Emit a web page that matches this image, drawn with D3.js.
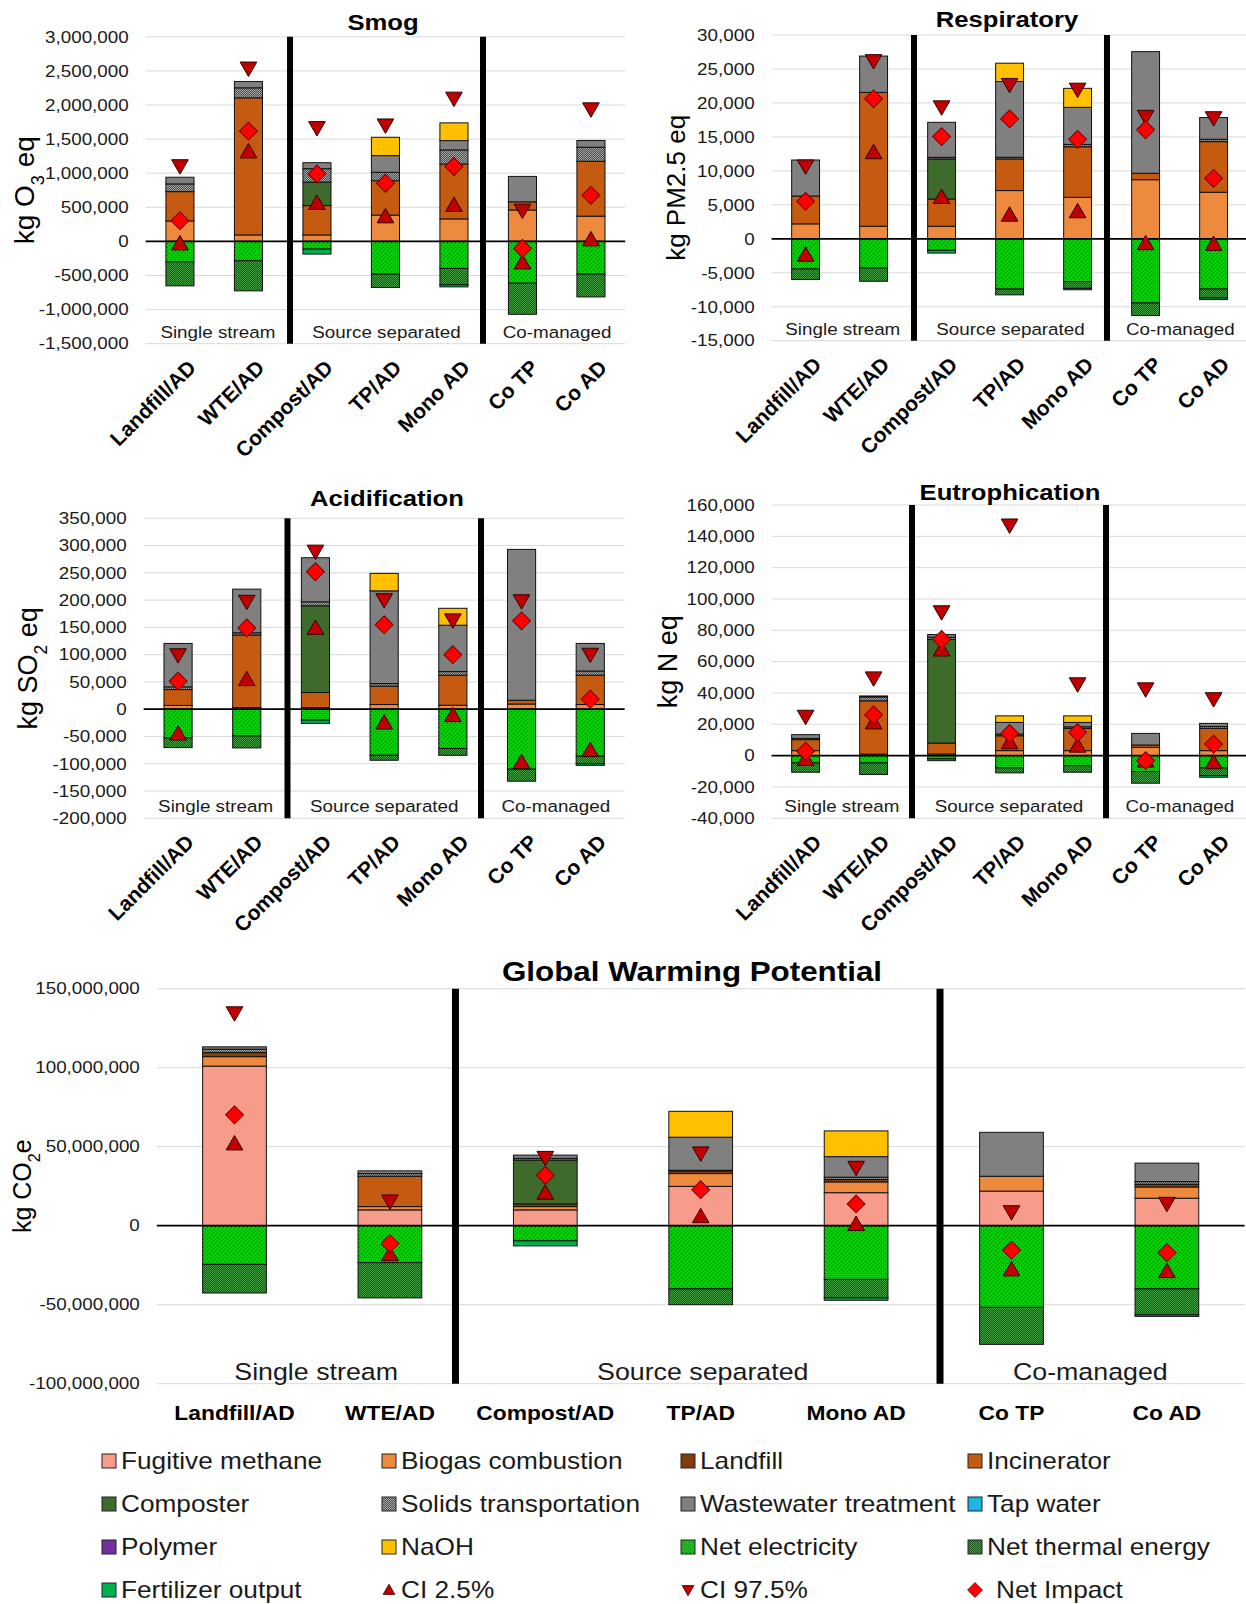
<!DOCTYPE html>
<html>
<head>
<meta charset="utf-8">
<script src="https://cdn.jsdelivr.net/npm/d3@7"></script>
<style>
  body { margin: 0; background: #fff; }
  svg { font-family: "Liberation Sans", Arial, sans-serif; }
</style>
</head>
<body>
<script>
const scenarios = ["Landfill/AD", "WTE/AD", "Compost/AD", "TP/AD", "Mono AD", "Co TP", "Co AD"];
const groups = ["Single stream", "Source separated", "Co-managed"];

// ---- Smog (kg O3 eq)
const smogBiogas     = [300000, 95000, 95000, 385000, 330000, 460000, 370000];
const smogIncin      = [430000, 2010000, 430000, 505000, 805000, 120000, 805000];
const smogComposter  = [0, 0, 345000, 0, 0, 0, 0];
const smogSolids     = [113000, 147000, 196000, 123000, 206000, 0, 206000];
const smogWaste      = [98000, 93000, 88000, 245000, 137000, 373000, 98000];
const smogNaOH       = [0, 0, 0, 269000, 260000, 0, 0];
const smogElec       = [-300000, -284000, -113000, -480000, -397000, -613000, -480000];
const smogThermal    = [-352000, -441000, 0, -196000, -240000, -456000, -334000];
const smogFert       = [0, 0, -73000, 0, -30000, 0, 0];
const smogLow        = [-54000, 1294000, 539000, 343000, 510000, -333000, 5000];
const smogHigh       = [1127000, 2559000, 1686000, 1725000, 2118000, 475000, 1961000];
const smogNet        = [304000, 1618000, 990000, 853000, 1098000, -103000, 676000];

// ---- Respiratory (kg PM2.5 eq)
const respBiogas     = [2200, 1850, 1850, 7100, 6100, 8700, 6850];
const respIncin      = [4100, 19700, 4000, 4650, 7450, 950, 7450];
const respComposter  = [0, 0, 5900, 0, 0, 0, 0];
const respSolids     = [0, 0, 250, 250, 350, 0, 350];
const respWaste      = [5300, 5350, 5150, 11150, 5450, 17900, 3200];
const respNaOH       = [0, 0, 0, 2700, 2800, 0, 0];
const respElec       = [-4450, -4300, -1700, -7400, -6300, -9450, -7400];
const respThermal    = [-1550, -1950, 0, -850, -1000, -1850, -1300];
const respFert       = [0, 0, -400, 0, -200, 0, -250];
const respLow        = [-2600, 12500, 5900, 3300, 3800, -900, -1000];
const respHigh       = [10900, 26400, 19600, 22900, 22200, 18200, 18000];
const respNet        = [5500, 20600, 15050, 17650, 14650, 16050, 8900];

// ---- Acidification (kg SO2 eq)
const acidBiogas     = [7000, 3000, 3000, 8600, 7300, 9500, 8600];
const acidIncin      = [29000, 133000, 27600, 33600, 55100, 7000, 53800];
const acidComposter  = [0, 0, 159000, 0, 0, 0, 0];
const acidSolids     = [5000, 4100, 7300, 4800, 6600, 0, 7600];
const acidWaste      = [79600, 80000, 80800, 170000, 85000, 276500, 50600];
const acidNaOH       = [0, 0, 0, 32000, 31000, 0, 0];
const acidElec       = [-52600, -49000, -20000, -84500, -72000, -110000, -86000];
const acidThermal    = [-17800, -22000, 0, -9100, -12500, -22000, -14000];
const acidFert       = [0, 0, -6000, 0, 0, 0, -3000];
const acidLow        = [-47700, 52000, 146000, -27500, -14000, -100000, -78000];
const acidHigh       = [102000, 200000, 292000, 203000, 166000, 201000, 103000];
const acidNet        = [51400, 149000, 252000, 155000, 100000, 162000, 18400];

// ---- Eutrophication (kg N eq)
const eutBiogas      = [3200, 1000, 1000, 3200, 3200, 5300, 3200];
const eutIncin       = [7000, 34000, 7000, 9500, 14200, 1500, 14200];
const eutComposter   = [0, 0, 66200, 0, 0, 0, 0];
const eutSolids      = [800, 2500, 1400, 1100, 1000, 0, 1200];
const eutWaste       = [2400, 600, 1700, 7400, 2800, 7400, 2000];
const eutNaOH        = [0, 0, 0, 4200, 4200, 0, 0];
const eutElec        = [-4700, -4700, -2100, -7800, -6400, -10200, -7800];
const eutThermal     = [-5900, -7300, 0, -3200, -4200, -7400, -4900];
const eutFert        = [0, 0, -1100, 0, 0, 0, -1100];
const eutLow         = [-3200, 20100, 66700, 7400, 5300, -4200, -5300];
const eutHigh        = [25900, 50400, 92600, 148000, 46600, 43400, 37100];
const eutNet         = [2800, 26000, 74200, 14200, 14800, -3200, 7400];

// ---- Global warming potential (kg CO2e)
const gwpFugitive    = [101e6, 10e6, 10e6, 24.9e6, 20.9e6, 21.9e6, 17.4e6];
const gwpBiogas      = [6e6, 2.1e6, 2.1e6, 8.1e6, 6.8e6, 9.4e6, 7.1e6];
const gwpLandfill    = [2.6e6, 0, 1.7e6, 1.5e6, 1.5e6, 0, 1.7e6];
const gwpIncin       = [0, 19.2e6, 0, 0, 0, 0, 0];
const gwpComposter   = [0, 0, 27.7e6, 0, 0, 0, 0];
const gwpSolids      = [2.1e6, 1.7e6, 1.1e6, 0.6e6, 1.5e6, 0, 1.7e6];
const gwpWaste       = [1.5e6, 1.7e6, 2.1e6, 20.9e6, 13e6, 27.8e6, 11.7e6];
const gwpNaOH        = [0, 0, 0, 16.4e6, 16.3e6, 0, 0];
const gwpElec        = [-24.5e6, -23.4e6, -9.6e6, -40e6, -34e6, -51.7e6, -40e6];
const gwpThermal     = [-18.1e6, -22.3e6, 0, -10e6, -11.7e6, -23.4e6, -16.4e6];
const gwpFert        = [0, 0, -3.2e6, 0, -1.5e6, 0, -1e6];
const gwpLow         = [51e6, -19.1e6, 19.8e6, 4.9e6, 0, -28.7e6, -29.8e6];
const gwpHigh        = [135.5e6, 16.4e6, 44e6, 46.8e6, 37.7e6, 9.6e6, 14.9e6];
const gwpNet         = [70.2e6, -11.3e6, 31.9e6, 22.8e6, 13.8e6, -15.5e6, -17e6];

const components = [
    {key: "fugitive",   name: "Fugitive methane",      fill: "#F79B8B"},
    {key: "biogas",     name: "Biogas combustion",     fill: "#EE8A3E"},
    {key: "landfill",   name: "Landfill",              fill: "#843C0C"},
    {key: "incinerator",name: "Incinerator",           fill: "#C55A11"},
    {key: "composter",  name: "Composter",             fill: "#3E6A2B"},
    {key: "solids",     name: "Solids transportation", fill: "url(#patSolids)"},
    {key: "wastewater", name: "Wastewater treatment",  fill: "#808080"},
    {key: "tapwater",   name: "Tap water",             fill: "#1EB4E8"},
    {key: "polymer",    name: "Polymer",               fill: "#7030A0"},
    {key: "naoh",       name: "NaOH",                  fill: "#FFC000"},
    {key: "elec",       name: "Net electricity",       fill: "url(#patElec)"},
    {key: "thermal",    name: "Net thermal energy",    fill: "url(#patThermal)"},
    {key: "fert",       name: "Fertilizer output",     fill: "#00B050"}
];
const compByKey = {};
components.forEach(c => compByKey[c.key] = c);

const fmt = d3.formatLocale({decimal: ".", thousands: ",", grouping: [3], currency: ["$", ""], minus: "-"}).format(",");

// the source figure is a bit wider than tall, so horizontal text gets stretched
const SX = 1.14;
const place = (x, y) => "translate(" + x + "," + y + ") scale(" + SX + ",1)";

const svg = d3.select("body").append("svg")
    .attr("width", 1246)
    .attr("height", 1604);

// fill patterns
const defs = svg.append("defs");
const pElec = defs.append("pattern").attr("id", "patElec")
    .attr("width", 4).attr("height", 4).attr("patternUnits", "userSpaceOnUse");
pElec.append("rect").attr("width", 4).attr("height", 4).attr("fill", "#0CC80C");
pElec.append("rect").attr("x", 1).attr("y", 1).attr("width", 1).attr("height", 1).attr("fill", "#087A08");
pElec.append("rect").attr("x", 3).attr("y", 3).attr("width", 1).attr("height", 1).attr("fill", "#087A08");

const pTherm = defs.append("pattern").attr("id", "patThermal")
    .attr("width", 2).attr("height", 2).attr("patternUnits", "userSpaceOnUse");
pTherm.append("rect").attr("width", 2).attr("height", 2).attr("fill", "#175717");
pTherm.append("rect").attr("width", 1).attr("height", 1).attr("fill", "#45A045");
pTherm.append("rect").attr("x", 1).attr("y", 1).attr("width", 1).attr("height", 1).attr("fill", "#45A045");

const pSol = defs.append("pattern").attr("id", "patSolids")
    .attr("width", 2).attr("height", 2).attr("patternUnits", "userSpaceOnUse");
pSol.append("rect").attr("width", 2).attr("height", 2).attr("fill", "#4D4D4D");
pSol.append("rect").attr("width", 1).attr("height", 1).attr("fill", "#A6A6A6");
pSol.append("rect").attr("x", 1).attr("y", 1).attr("width", 1).attr("height", 1).attr("fill", "#A6A6A6");

const panels = [
    {title: "Smog", unit: ["kg O", "3", " eq"], x0: 145.7, x1: 625.2, yBottom: 343.7, yTop: 36.8,
     min: -1500000, max: 3000000, step: 500000, seps: [2.107, 4.924], titleX: 383, titleY: 30, labelX: 24, labelSize: 28,
     grpShift: [0, 0, 3],
     data: {biogas: smogBiogas, incinerator: smogIncin, composter: smogComposter, solids: smogSolids,
            wastewater: smogWaste, naoh: smogNaOH, elec: smogElec, thermal: smogThermal, fert: smogFert},
     low: smogLow, high: smogHigh, net: smogNet},
    {title: "Respiratory", unit: ["kg PM2.5 eq"], x0: 771.6, x1: 1247.6, yBottom: 340.7, yTop: 35,
     min: -15000, max: 30000, step: 5000, seps: [2.094, 4.932], titleX: 1007, titleY: 27, labelX: 676, labelSize: 26,
     grpShift: [0, 0, 3],
     data: {biogas: respBiogas, incinerator: respIncin, composter: respComposter, solids: respSolids,
            wastewater: respWaste, naoh: respNaOH, elec: respElec, thermal: respThermal, fert: respFert},
     low: respLow, high: respHigh, net: respNet},
    {title: "Acidification", unit: ["kg SO", "2", " eq"], x0: 143.7, x1: 624.6, yBottom: 818.3, yTop: 518.3,
     min: -200000, max: 350000, step: 50000, seps: [2.093, 4.91], titleX: 387, titleY: 506, labelX: 28, labelSize: 27,
     grpShift: [0, 0, 3],
     data: {biogas: acidBiogas, incinerator: acidIncin, composter: acidComposter, solids: acidSolids,
            wastewater: acidWaste, naoh: acidNaOH, elec: acidElec, thermal: acidThermal, fert: acidFert},
     low: acidLow, high: acidHigh, net: acidNet},
    {title: "Eutrophication", unit: ["kg N eq"], x0: 771.6, x1: 1247.6, yBottom: 818.3, yTop: 505,
     min: -40000, max: 160000, step: 20000, seps: [2.065, 4.918], titleX: 1010, titleY: 500, labelX: 668, labelSize: 27,
     grpShift: [0, 0, 3],
     data: {biogas: eutBiogas, incinerator: eutIncin, composter: eutComposter, solids: eutSolids,
            wastewater: eutWaste, naoh: eutNaOH, elec: eutElec, thermal: eutThermal, fert: eutFert},
     low: eutLow, high: eutHigh, net: eutNet},
    {title: "Global Warming Potential", unit: ["kg CO", "2", "e"], x0: 156.8, x1: 1244.6, yBottom: 1383.7, yTop: 988.7,
     min: -100000000, max: 150000000, step: 50000000, seps: [1.922, 5.04], titleX: 692, titleY: 981, labelX: 22, labelSize: 25,
     grpShift: [10, 5, -2], big: true,
     data: {fugitive: gwpFugitive, biogas: gwpBiogas, landfill: gwpLandfill, incinerator: gwpIncin,
            composter: gwpComposter, solids: gwpSolids, wastewater: gwpWaste, naoh: gwpNaOH,
            elec: gwpElec, thermal: gwpThermal, fert: gwpFert},
     low: gwpLow, high: gwpHigh, net: gwpNet}
];

const triUp = d3.symbol().type(d3.symbolTriangle).size(120);
const diamond = d3.symbol().type(d3.symbolSquare).size(160);

function drawPanel(p) {
    const x = d3.scaleBand().domain(scenarios).range([p.x0, p.x1]);
    const y = d3.scaleLinear().domain([p.min, p.max]).range([p.yBottom, p.yTop]);
    const g = svg.append("g");
    const ticks = d3.range(p.min, p.max + p.step / 2, p.step);
    const cx = d => x(d) + x.bandwidth() / 2;

    g.selectAll(".grid").data(ticks).enter().append("line")
        .attr("x1", p.x0).attr("x2", p.x1)
        .attr("y1", d => y(d)).attr("y2", d => y(d))
        .style("stroke", "#D9D9D9").style("stroke-width", 1);

    g.selectAll(".tick").data(ticks).enter().append("text")
        .attr("transform", d => place(p.x0 - 17, y(d)))
        .attr("dy", "0.35em")
        .attr("text-anchor", "end")
        .style("font-size", "16.5px")
        .style("fill", "#1a1a1a")
        .text(d => fmt(d));

    // stacked bars: positives up, negatives down
    const rows = scenarios.map(function(s, i) {
        const r = {scenario: s};
        components.forEach(c => r[c.key] = p.data[c.key] ? p.data[c.key][i] : 0);
        return r;
    });
    const series = d3.stack()
        .keys(components.map(c => c.key))
        .offset(d3.stackOffsetDiverging)(rows);
    const bw = x.bandwidth() * 0.41;

    g.selectAll(".layer").data(series).enter().append("g")
        .style("fill", d => compByKey[d.key].fill)
        .selectAll("rect")
        .data(d => d.filter(s => s[1] !== s[0]))
        .enter().append("rect")
        .attr("x", d => cx(d.data.scenario) - bw / 2)
        .attr("width", bw)
        .attr("y", d => y(Math.max(d[0], d[1])))
        .attr("height", d => Math.abs(y(d[0]) - y(d[1])))
        .style("stroke", "#111")
        .style("stroke-width", 1);

    // zero line
    g.append("line")
        .attr("x1", p.x0).attr("x2", p.x1)
        .attr("y1", y(0)).attr("y2", y(0))
        .style("stroke", "#000").style("stroke-width", 1.8);

    // group separators
    const sepX = p.seps.map(s => p.x0 + x.step() * s);
    g.selectAll(".sep").data(sepX).enter().append("line")
        .attr("x1", d => d).attr("x2", d => d)
        .attr("y1", p.yTop).attr("y2", p.yBottom)
        .style("stroke", "#000").style("stroke-width", p.big ? 7 : 6);

    const bounds = [p.x0].concat(sepX, [p.x1]);
    g.selectAll(".grp").data(groups).enter().append("text")
        .attr("transform", (d, i) => place((bounds[i] + bounds[i + 1]) / 2 + p.grpShift[i], p.big ? 1380 : p.yBottom - 6))
        .attr("text-anchor", "middle")
        .style("font-size", p.big ? "23.5px" : "16.5px")
        .style("fill", "#1a1a1a")
        .text(d => d);

    // CI and net impact markers
    const mk = g.append("g");
    mk.selectAll(".lo").data(p.low).enter().append("path")
        .attr("d", triUp)
        .attr("transform", (d, i) => "translate(" + cx(scenarios[i]) + "," + y(d) + ")")
        .style("fill", "#C00000").style("stroke", "#300").style("stroke-width", 1);
    mk.selectAll(".hi").data(p.high).enter().append("path")
        .attr("d", triUp)
        .attr("transform", (d, i) => "translate(" + cx(scenarios[i]) + "," + y(d) + ") rotate(180)")
        .style("fill", "#C00000").style("stroke", "#300").style("stroke-width", 1);
    mk.selectAll(".net").data(p.net).enter().append("path")
        .attr("d", diamond)
        .attr("transform", (d, i) => "translate(" + cx(scenarios[i]) + "," + y(d) + ") rotate(45)")
        .style("fill", "#FF0000").style("stroke", "#7A0000").style("stroke-width", 1);

    // category labels
    if (p.big) {
        g.selectAll(".cat").data(scenarios).enter().append("text")
            .attr("transform", d => place(cx(d), 1420))
            .attr("text-anchor", "middle")
            .style("font-size", "20px")
            .style("font-weight", "bold")
            .text(d => d);
    } else {
        g.selectAll(".cat").data(scenarios).enter().append("text")
            .attr("transform", d => "translate(" + (cx(d) + 12) + "," + (p.yBottom + 20) + ") rotate(-45)")
            .attr("text-anchor", "end")
            .attr("dy", "0.35em")
            .style("font-size", "21px")
            .style("font-weight", "bold")
            .text(d => d);
    }

    // title
    g.append("text")
        .attr("transform", place(p.titleX, p.titleY))
        .attr("text-anchor", "middle")
        .style("font-size", p.big ? "27.5px" : "22.5px")
        .style("font-weight", "bold")
        .text(p.title);

    // y axis label with subscript
    const yl = g.append("text")
        .attr("transform", "translate(" + p.labelX + "," + ((p.yTop + p.yBottom) / 2) + ") rotate(-90)")
        .attr("text-anchor", "middle")
        .attr("dy", "0.35em")
        .style("font-size", p.labelSize + "px");
    p.unit.forEach(function(t, i) {
        const ts = yl.append("tspan").text(t);
        if (i === 1) ts.attr("baseline-shift", "sub").style("font-size", "65%");
    });
}

panels.forEach(drawPanel);

// legend
const legendItems = components.map(c => ({name: c.name, fill: c.fill, type: "box"}))
    .concat([{name: "CI 2.5%", type: "lo"}, {name: "CI 97.5%", type: "hi"}, {name: "Net Impact", type: "net"}]);
const legCols = [102, 382, 681, 968];
const legRows = [1461, 1504, 1547, 1590];

const leg = svg.selectAll(".leg").data(legendItems).enter().append("g")
    .attr("transform", (d, i) => "translate(" + legCols[i % 4] + "," + legRows[Math.floor(i / 4)] + ")");

leg.filter(d => d.type === "box").append("rect")
    .attr("x", 0).attr("y", -7).attr("width", 14).attr("height", 14)
    .style("fill", d => d.fill).style("stroke", "#222").style("stroke-width", 1);
leg.filter(d => d.type === "lo").append("path")
    .attr("d", d3.symbol().type(d3.symbolTriangle).size(60))
    .attr("transform", "translate(7,1)")
    .style("fill", "#C00000").style("stroke", "#300").style("stroke-width", 0.8);
leg.filter(d => d.type === "hi").append("path")
    .attr("d", d3.symbol().type(d3.symbolTriangle).size(60))
    .attr("transform", "translate(7,-1) rotate(180)")
    .style("fill", "#C00000").style("stroke", "#300").style("stroke-width", 0.8);
leg.filter(d => d.type === "net").append("path")
    .attr("d", d3.symbol().type(d3.symbolSquare).size(110))
    .attr("transform", "translate(7,0) rotate(45)")
    .style("fill", "#FF0000").style("stroke", "#7A0000").style("stroke-width", 0.8);

leg.append("text")
    .attr("transform", d => place(d.type === "net" ? 28 : 19, 0))
    .attr("dy", "0.36em")
    .style("font-size", "23px")
    .style("fill", "#1a1a1a")
    .text(d => d.name);
</script>
</body>
</html>
